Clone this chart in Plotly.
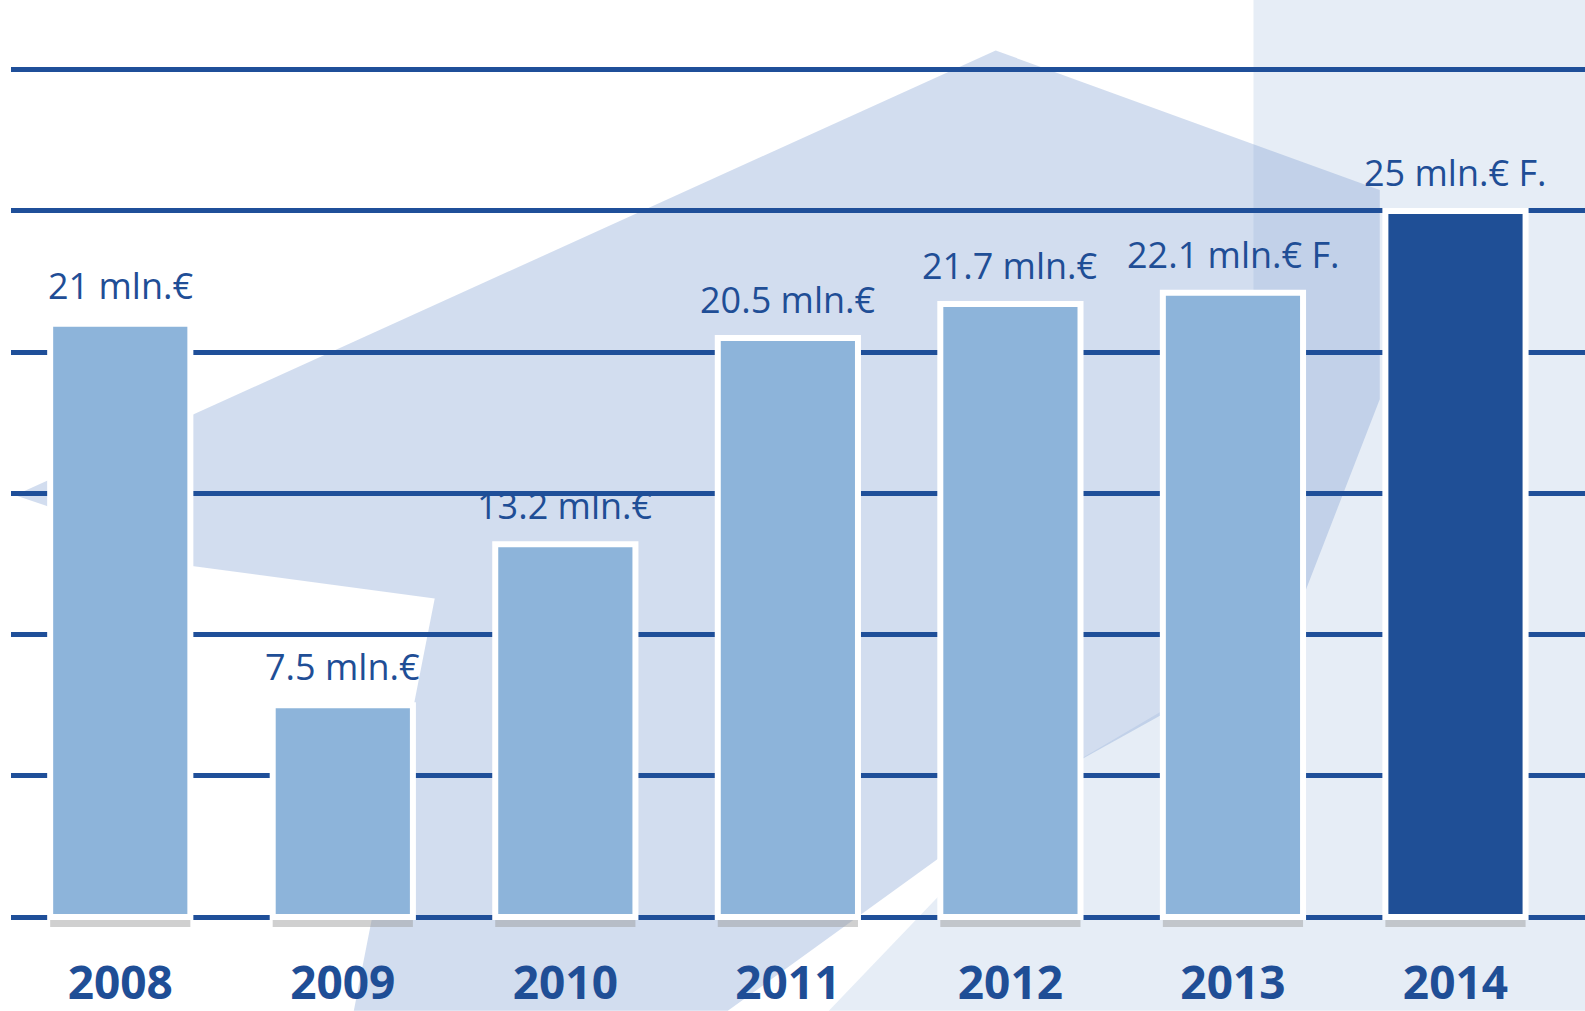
import plotly.graph_objects as go

# ---- data ----
years = [2008, 2009, 2010, 2011, 2012, 2013, 2014]
year_labels = ["2008", "2009", "2010", "2011", "2012", "2013", "2014"]
values = [21, 7.5, 13.2, 20.5, 21.7, 22.1, 25]
value_labels = ["21 mln.€", "7.5 mln.€", "13.2 mln.€", "20.5 mln.€",
                "21.7 mln.€", "22.1 mln.€ F.", "25 mln.€ F."]
bar_colors = ["#8db4da"] * 6 + ["#1f4f96"]

TEXT = "#1f4e96"
GRID = "#1f4f99"

W, H = 1585, 1011
L, R, T, B = 11, 0, 64, 77

# decorative background helpers (reference pixel coords -> paper)
S = 1585 / 1568
def path(points):
    pts = []
    for x, y in points:
        X, Y = x * S, y * S
        px = (X - L) / (W - L - R)
        py = (H - B - Y) / (H - T - B)
        pts.append(f"{px:.4f},{py:.4f}")
    return "M " + " L ".join(pts) + " Z"

shapes = [
    dict(type="path", xref="paper", yref="paper", layer="below",
         path=path([(1240, 0), (1568, 0), (1568, 1000), (820, 1000),
                    (1045, 765), (1240, 650)]),
         fillcolor="rgba(200,214,234,0.45)", line=dict(width=0)),
    dict(type="path", xref="paper", yref="paper", layer="below",
         path=path([(15, 490), (985, 50), (1365, 188), (1365, 395),
                    (1270, 640), (1045, 765), (720, 1000), (350, 1000),
                    (430, 592), (190, 560), (45, 500)]),
         fillcolor="rgba(125,158,208,0.35)", line=dict(width=0)),
]

fig = go.Figure()

# shadow under bars
fig.add_trace(go.Bar(
    x=years, y=[0.3] * len(years), base=[-0.35] * len(years), width=0.63,
    marker=dict(color="rgba(150,150,150,0.45)", line=dict(width=0)),
    hoverinfo="skip", showlegend=False))

fig.add_trace(go.Bar(
    x=years, y=values, width=0.63,
    marker=dict(color=bar_colors, line=dict(color="white", width=6)),
    showlegend=False))

annotations = [
    dict(x=x, y=v, text=t, showarrow=False, yanchor="bottom", yshift=12,
         font=dict(family="Open Sans", size=36, color=TEXT))
    for x, v, t in zip(years, values, value_labels)
]

fig.update_layout(
    width=W, height=H,
    margin=dict(l=L, r=R, t=T, b=B),
    paper_bgcolor="white", plot_bgcolor="rgba(0,0,0,0)",
    barmode="overlay",
    shapes=shapes,
    annotations=annotations,
    xaxis=dict(range=[2007.509, 2014.582], tickvals=years, ticktext=year_labels,
               showgrid=False, zeroline=False, ticks="", showline=False,
               ticklabelstandoff=18,
               tickfont=dict(family="Open Sans", size=46, color=TEXT, weight="bold")),
    yaxis=dict(range=[-0.6, 30.2], dtick=5, tick0=0, showgrid=True,
               gridcolor=GRID, gridwidth=5, zeroline=False,
               showticklabels=False, ticks="", showline=False),
)

fig.write_html("out.html", config={"displayModeBar": False},
               post_script="document.body.style.margin='0';document.body.style.overflow='hidden';")
